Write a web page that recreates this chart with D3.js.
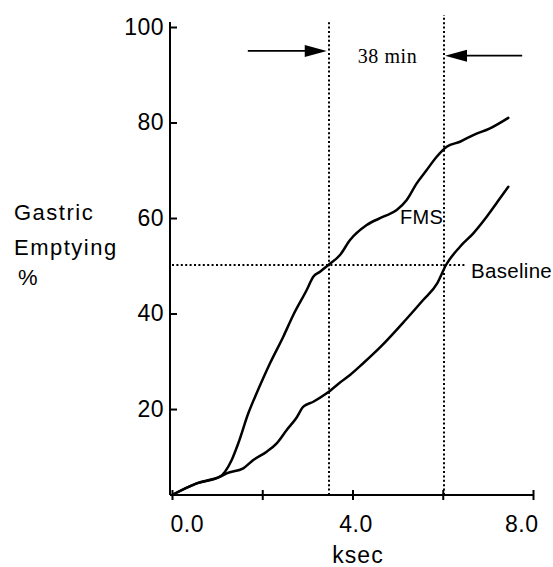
<!DOCTYPE html>
<html>
<head>
<meta charset="utf-8">
<script src="https://cdn.jsdelivr.net/npm/d3@7/dist/d3.min.js"></script>
<style>
  html, body { margin: 0; padding: 0; background: #fff; }
  svg { display: block; }
  text { font-family: "Liberation Sans", Arial, Helvetica, sans-serif; fill: #000; }
</style>
</head>
<body>
<svg id="chart" width="553" height="567"></svg>
<script>
// ---- data (ksec, % emptied) ----
const xTicks = [0, 2, 4, 6, 8];
const xTickLabels = ["0.0", "", "4.0", "", "8.0"];
const yTicks = [20, 40, 60, 80, 100];

const fmsX = [0, 0.547, 1.064, 1.175, 1.323, 1.469, 1.691, 1.877, 2.023, 2.172, 2.466, 2.688, 2.985, 3.131, 3.280, 3.464, 3.723, 3.945, 4.315, 4.683, 4.980, 5.201, 5.423, 5.644, 5.866, 6.088, 6.382, 6.677, 7.047, 7.453];
const fmsY = [2, 4.45, 5.83, 6.88, 9.33, 12.83, 19.11, 23.36, 26.5, 29.58, 35.15, 39.69, 44.92, 47.71, 48.76, 50.16, 52.25, 55.39, 58.53, 60.27, 61.67, 63.77, 67.26, 70.05, 72.83, 74.93, 75.97, 77.38, 78.78, 80.98];

const baseX = [0, 0.547, 1.064, 1.212, 1.580, 1.802, 2.099, 2.320, 2.542, 2.763, 2.910, 3.131, 3.428, 3.723, 3.945, 4.237, 4.627, 5.175, 5.565, 5.877, 6.072, 6.382, 6.677, 6.974, 7.269, 7.453];
const baseY = [2, 4.45, 5.83, 6.54, 7.59, 9.33, 11.07, 12.83, 15.61, 18.23, 20.49, 21.53, 23.29, 25.56, 27.13, 29.58, 33.05, 38.64, 42.83, 46.33, 50.16, 53.99, 56.80, 60.27, 64.12, 66.55];

const halfLevel = 50;                 // horizontal dotted reference (%)
const halfTimes = [3.48, 6.03];       // vertical dotted references (ksec)
const halfTops = [101.5, 102.5];      // where the vertical lines end (%)
const seriesNames = ["FMS", "Baseline"];
const intervalLabel = "38 min";

// ---- layout ----
const svg = d3.select("#chart");
const x = d3.scaleLinear().domain([0, 8]).range([172, 533]);
const y = d3.scaleLinear().domain([2, 100]).range([495, 27]);

const axisStroke = 2;

// y axis (ticks point inward, labels left)
const yAxis = d3.axisLeft(y).tickValues(yTicks).tickSizeInner(-7).tickSizeOuter(0).tickPadding(6);
const gy = svg.append("g").attr("transform", `translate(${x(0) - 2},0)`).call(yAxis);
gy.select(".domain").attr("stroke", "#000").attr("stroke-width", axisStroke)
  .attr("d", `M0,${y.range()[0]}V22`);
gy.selectAll(".tick line").attr("stroke", "#000").attr("stroke-width", 2);
gy.selectAll(".tick text").attr("font-size", 23).attr("letter-spacing", 0.5)
  .style("font-family", "'Liberation Sans', Arial, sans-serif");

// x axis (crossing ticks)
const xAxis = d3.axisBottom(x).tickValues(xTicks)
  .tickFormat((d, i) => xTickLabels[i]).tickSizeInner(5).tickSizeOuter(0).tickPadding(16);
const gx = svg.append("g").attr("transform", `translate(0,${y(2)})`).call(xAxis);
gx.select(".domain").attr("stroke", "#000").attr("stroke-width", axisStroke)
  .attr("d", `M${x(0) - 2},0H${x(8)}`);
gx.selectAll(".tick line").attr("stroke", "#000").attr("stroke-width", 2).attr("y1", -5).attr("y2", 5);
gx.selectAll(".tick text").attr("font-size", 23).attr("letter-spacing", 0.5)
  .style("font-family", "'Liberation Sans', Arial, sans-serif")
  .attr("text-anchor", (d, i) => i === 0 ? "start" : (i === xTicks.length - 1 ? "end" : "middle"))
  .attr("dx", (d, i) => i === 0 ? -2 : (i === xTicks.length - 1 ? 5 : 3));

// axis titles
svg.append("text").attr("x", 358).attr("y", 563).attr("text-anchor", "middle")
  .attr("font-size", 23).attr("letter-spacing", 1).text("ksec");
const yTitle = svg.append("text").attr("font-size", 22).attr("letter-spacing", 1.5);
yTitle.append("tspan").attr("x", 14).attr("y", 220).text("Gastric");
yTitle.append("tspan").attr("x", 14).attr("y", 255).text("Emptying");
yTitle.append("tspan").attr("x", 18).attr("y", 285).text("%");

// reference dotted lines
const dotted = "2,2.4";
const hy = Math.round(y(halfLevel)) - 1;
svg.append("line")
  .attr("x1", x(0)).attr("x2", x(6.5)).attr("y1", hy).attr("y2", hy)
  .attr("stroke", "#000").attr("stroke-width", 2).attr("stroke-dasharray", dotted);
svg.selectAll("line.vref").data(halfTimes).join("line").attr("class", "vref")
  .attr("x1", d => Math.round(x(d))).attr("x2", d => Math.round(x(d)))
  .attr("y1", y(2)).attr("y2", (d, i) => y(halfTops[i]))
  .attr("stroke", "#000").attr("stroke-width", 2).attr("stroke-dasharray", dotted);

// curves
const line = d3.line().x(d => x(d[0])).y(d => y(d[1])).curve(d3.curveMonotoneX);
const fms = fmsX.map((v, i) => [v, fmsY[i]]);
const base = baseX.map((v, i) => [v, baseY[i]]);
[fms, base].forEach(s => {
  svg.append("path").datum(s).attr("d", line)
    .attr("fill", "none").attr("stroke", "#000").attr("stroke-width", 2.5)
    .attr("stroke-linejoin", "round").attr("stroke-linecap", "round");
});

// series labels
svg.append("text").attr("x", 400).attr("y", 224).attr("font-size", 20).attr("letter-spacing", 0.3).text(seriesNames[0]);
svg.append("text").attr("x", 471).attr("y", 278).attr("font-size", 20.5).attr("letter-spacing", 0.3).text(seriesNames[1]);

// interval annotation with arrows
const arrowY = [95, 94];
function arrow(x0, x1, yv) {
  const px0 = x(x0), px1 = x(x1), py = y(yv);
  const dir = Math.sign(px1 - px0);
  svg.append("line").attr("x1", px0).attr("x2", px1 - dir * 18).attr("y1", py).attr("y2", py)
    .attr("stroke", "#000").attr("stroke-width", 1.8);
  svg.append("path")
    .attr("d", `M${px1},${py}L${px1 - dir * 22},${py - 6}L${px1 - dir * 22},${py + 6}Z`)
    .attr("fill", "#000");
}
arrow(1.68, 3.43, arrowY[0]);
arrow(7.76, 6.05, arrowY[1]);
svg.append("text").attr("x", 387.5).attr("y", 63).attr("text-anchor", "middle")
  .style("font-family", "'Liberation Serif', 'Times New Roman', serif")
  .attr("font-size", 20).attr("letter-spacing", 0.6).text(intervalLabel);
</script>
</body>
</html>
